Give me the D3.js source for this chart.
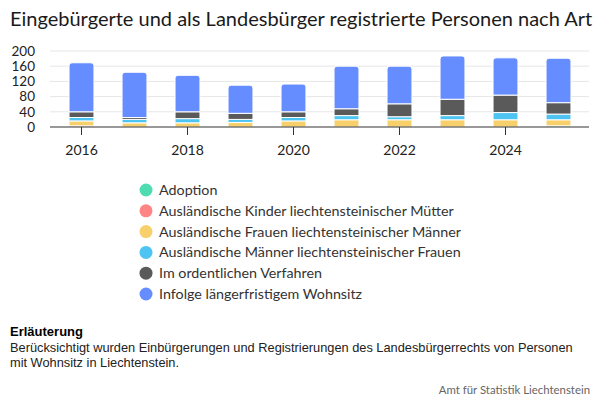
<!DOCTYPE html>
<html>
<head>
<meta charset="utf-8">
<script src="https://cdn.jsdelivr.net/npm/d3@7"></script>
<style>
  body { margin: 0; background: #fff; }
  svg { display: block; }
</style>
</head>
<body>
<svg id="chart" width="600" height="400"></svg>
<script>
// data
const years = ["2016", "2017", "2018", "2019", "2020", "2021", "2022", "2023", "2024", "2025"];
const seriesNames = [
  "Adoption",
  "Ausländische Kinder liechtensteinischer Mütter",
  "Ausländische Frauen liechtensteinischer Männer",
  "Ausländische Männer liechtensteinischer Frauen",
  "Im ordentlichen Verfahren",
  "Infolge längerfristigem Wohnsitz"
];
const adoption  = [0, 0, 0, 0, 0, 0, 0, 0, 0, 3];
const kinder    = [3, 0, 0, 0, 0, 0, 0, 0, 0, 0];
const frauen    = [13, 11, 11, 12, 16, 19, 19, 19, 19, 16];
const maenner   = [9, 9, 11, 8, 9, 11, 8, 11, 19, 15];
const ordentlich = [15, 5, 18, 16, 15, 18, 34, 43, 46, 30];
const wohnsitz  = [129, 119, 96, 74, 73, 112, 99, 114, 98, 117];
const yTicks = [0, 40, 80, 120, 160, 200];
const xTickLabels = ["2016", "2018", "2020", "2022", "2024"];
const colors = ["#4fdcb0", "#ff8585", "#f7d06c", "#4ec4f2", "#5a5a5a", "#658dff"];

const allSeries = [adoption, kinder, frauen, maenner, ordentlich, wohnsitz];
const rows = years.map((y, i) => {
  const r = { year: y };
  seriesNames.forEach((n, k) => r[n] = allSeries[k][i]);
  return r;
});

const svg = d3.select("#chart");
const font = "Lato, 'Noto Sans', sans-serif";

svg.append("text")
  .attr("x", 10).attr("y", 26)
  .attr("font-family", font).attr("font-size", 20)
  .attr("fill", "#1a1a1a")
  .text("Eingebürgerte und als Landesbürger registrierte Personen nach Art");

const plotLeft = 50, plotRight = 589, plotTop = 51, plotBottom = 127;

const x = d3.scaleBand().domain(years).range([55, 585]).paddingInner(0.53).paddingOuter(0.265);
const y = d3.scaleLinear().domain([0, 200]).range([plotBottom, plotTop]);

// gridlines
svg.append("g").selectAll("line").data(yTicks.slice(1)).join("line")
  .attr("x1", plotLeft).attr("x2", plotRight)
  .attr("y1", d => y(d)).attr("y2", d => y(d))
  .attr("stroke", "#e6e6e6").attr("stroke-width", 1);

// y labels
svg.append("g").selectAll("text").data(yTicks).join("text")
  .attr("x", 35).attr("y", d => y(d)).attr("dy", "0.35em")
  .attr("text-anchor", "end")
  .attr("font-family", font).attr("font-size", 13.5).attr("fill", "#222")
  .text(d => d);

// stacked bars
const stack = d3.stack().keys(seriesNames)(rows);
const topIndex = seriesNames.length - 1;
const g = svg.append("g");
stack.forEach((layer, k) => {
  g.selectAll(null).data(layer.filter(d => d[1] - d[0] > 0)).join("path")
    .attr("fill", colors[k])
    .attr("stroke", "#fff").attr("stroke-width", 1)
    .attr("d", d => {
      const x0 = x(d.data.year), w = x.bandwidth();
      const y0 = y(d[0]), y1 = y(d[1]);
      if (k === topIndex) {
        const r = 3;
        return `M${x0},${y0}V${y1 + r}Q${x0},${y1} ${x0 + r},${y1}H${x0 + w - r}Q${x0 + w},${y1} ${x0 + w},${y1 + r}V${y0}Z`;
      }
      return `M${x0},${y0}V${y1}H${x0 + w}V${y0}Z`;
    });
});

// x axis
const xAxis = d3.axisBottom(x).tickValues(xTickLabels).tickSize(8).tickSizeOuter(0);
const ax = svg.append("g").attr("transform", `translate(0,${plotBottom})`).call(xAxis);
ax.select(".domain").remove();
ax.append("line").attr("x1", plotLeft).attr("x2", plotRight).attr("stroke", "#333").attr("stroke-width", 1);
ax.selectAll(".tick line").attr("stroke", "#333");
ax.selectAll(".tick text")
  .attr("y", 18).attr("dy", "0.71em")
  .attr("font-family", font).attr("font-size", 14).attr("fill", "#222");

// legend
const legend = svg.append("g").selectAll("g").data(seriesNames).join("g")
  .attr("transform", (d, i) => `translate(146,${190 + i * 20.8})`);
legend.append("circle").attr("r", 6.5).attr("fill", (d, i) => colors[i]);
legend.append("text")
  .attr("x", 13).attr("dy", "0.35em")
  .attr("font-family", font).attr("font-size", 14.3).attr("fill", "#333")
  .text(d => d);

// notes
svg.append("text")
  .attr("x", 10).attr("y", 336)
  .attr("font-family", "'Liberation Sans', Arial, sans-serif").attr("font-size", 13)
  .attr("font-weight", "bold").attr("fill", "#000")
  .text("Erläuterung");
const noteLines = [
  "Berücksichtigt wurden Einbürgerungen und Registrierungen des Landesbürgerrechts von Personen",
  "mit Wohnsitz in Liechtenstein."
];
svg.append("g").selectAll("text").data(noteLines).join("text")
  .attr("x", 10).attr("y", (d, i) => 352 + i * 15)
  .attr("font-family", "'Liberation Sans', Arial, sans-serif").attr("font-size", 12.8)
  .attr("fill", "#222")
  .text(d => d);

svg.append("text")
  .attr("x", 590).attr("y", 394)
  .attr("text-anchor", "end")
  .attr("font-family", font).attr("font-size", 11.4).attr("fill", "#666")
  .text("Amt für Statistik Liechtenstein");
</script>
</body>
</html>
